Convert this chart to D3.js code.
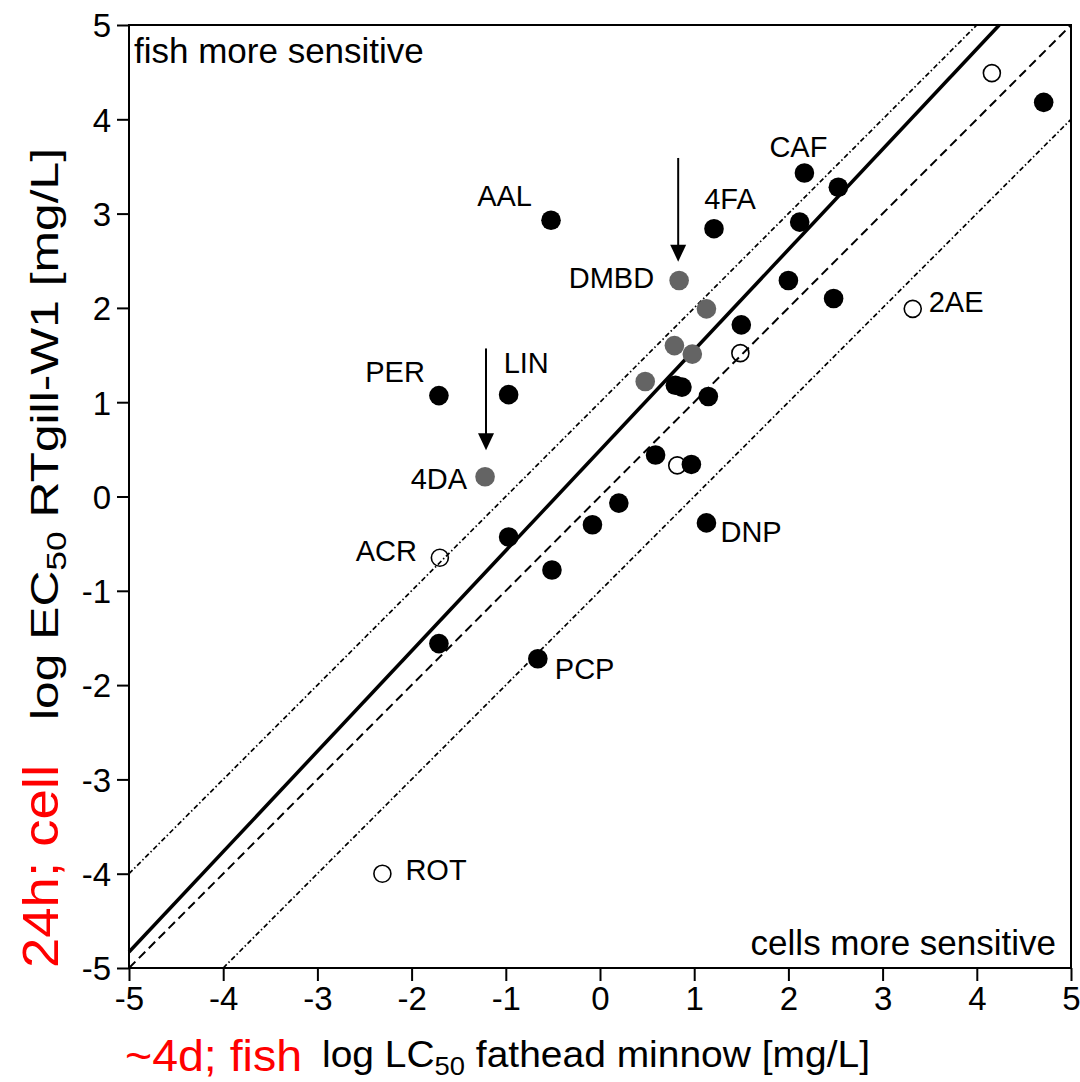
<!DOCTYPE html>
<html>
<head>
<meta charset="utf-8">
<script src="https://cdn.jsdelivr.net/npm/d3@7"></script>
<style>
    body { margin: 0; background: #fff; }
    text { font-family: "Liberation Sans", Arial, sans-serif; fill: #000; }
</style>
</head>
<body>
<div id="chart"></div>
<script>
// axis ticks (log units)
var tickValues = [-5, -4, -3, -2, -1, 0, 1, 2, 3, 4, 5];

// compounds: log LC50 fathead minnow (x) vs log EC50 RTgill-W1 (y)
var names   = ['', 'CAF', '', '', '4FA', 'AAL', '', '', '', '', '', '', 'PER', 'LIN', '', '', '', '', '', '', 'DNP', '', 'PCP',
               'DMBD', '', '', '', '', '4DA',
               '', '', '', 'ACR', '2AE', 'ROT'];
var fishLog = [4.71, 2.17, 2.53, 2.12, 1.21, -0.52, 2.00, 2.48, 1.50, 1.15, 0.80, 0.87, -1.71, -0.97, 0.59, 0.97, 0.20, -0.08, -0.97, -0.51, 1.13, -1.71, -0.66,
               0.84, 1.13, 0.79, 0.98, 0.48, -1.22,
               4.16, 1.49, 0.82, -1.70, 3.32, -2.31];
var cellLog = [4.18, 3.43, 3.28, 2.91, 2.84, 2.93, 2.29, 2.10, 1.82, 1.06, 1.18, 1.16, 1.07, 1.08, 0.44, 0.34, -0.07, -0.30, -0.43, -0.78, -0.28, -1.56, -1.72,
               2.29, 1.99, 1.60, 1.51, 1.22, 0.21,
               4.49, 1.52, 0.33, -0.65, 1.99, -4.00];
var kinds   = ['filled', 'filled', 'filled', 'filled', 'filled', 'filled', 'filled', 'filled', 'filled', 'filled', 'filled', 'filled', 'filled', 'filled', 'filled', 'filled', 'filled', 'filled', 'filled', 'filled', 'filled', 'filled', 'filled',
               'gray', 'gray', 'gray', 'gray', 'gray', 'gray',
               'open', 'open', 'open', 'open', 'open', 'open'];

// reference lines y = slope * x + intercept
var lineSlopes     = [1.064, 1, 1, 1];
var lineIntercepts = [0.49, 0, 1, -1];
var lineKinds      = ['fit', 'identity', 'upper', 'lower'];

// arrows (x, from y, to y)
var arrowX    = [0.83, -1.21];
var arrowFrom = [3.59, 1.57];
var arrowTo   = [2.49, 0.49];

var margin = { top: 25, left: 129 };
var width = 942, height = 943;

var svg = d3.select('#chart')
    .append('svg')
    .attr('width', 1080)
    .attr('height', 1082);

var g = svg.append('g')
    .attr('transform', 'translate(' + margin.left + ',' + margin.top + ')');

var x = d3.scaleLinear().domain([-5, 5]).range([0, width]);
var y = d3.scaleLinear().domain([-5, 5]).range([height, 0]);

// axes
var xAxis = g.append('g')
    .attr('transform', 'translate(0,' + height + ')')
    .call(d3.axisBottom(x).tickValues(tickValues).tickSize(13).tickPadding(6)
        .tickFormat(function(d) { return String(d); }));
var yAxis = g.append('g')
    .call(d3.axisLeft(y).tickValues(tickValues).tickSize(12).tickPadding(6)
        .tickFormat(function(d) { return String(d); }));

[xAxis, yAxis].forEach(function(a) {
    a.select('.domain').remove();
    a.selectAll('line').attr('stroke', '#000').attr('stroke-width', 2);
    a.selectAll('text').attr('font-size', 33).attr('font-family', '"Liberation Sans", Arial, sans-serif').attr('fill', '#000');
});
xAxis.selectAll('text').attr('dy', '0.71em');
yAxis.selectAll('text').attr('dy', '0.36em');

// frame
g.append('rect')
    .attr('width', width)
    .attr('height', height)
    .attr('fill', 'none')
    .attr('stroke', '#000')
    .attr('stroke-width', 2);

// reference lines
var lineStyles = {
    fit:      { w: 3.5, dash: null },
    identity: { w: 2,   dash: '9,5' },
    upper:    { w: 1.7, dash: '5,2.5,1.5,2.5' },
    lower:    { w: 1.7, dash: '5,2.5,1.5,2.5' }
};

lineSlopes.forEach(function(m, i) {
    var b = lineIntercepts[i];
    var x0 = Math.max(-5, (-5 - b) / m);
    var x1 = Math.min(5, (5 - b) / m);
    var st = lineStyles[lineKinds[i]];
    g.append('line')
        .attr('x1', x(x0)).attr('y1', y(m * x0 + b))
        .attr('x2', x(x1)).attr('y2', y(m * x1 + b))
        .attr('stroke', '#000')
        .attr('stroke-width', st.w)
        .attr('stroke-dasharray', st.dash);
});

// arrows
arrowX.forEach(function(ax, i) {
    var px = x(ax), tip = y(arrowTo[i]);
    g.append('line')
        .attr('x1', px).attr('y1', y(arrowFrom[i]))
        .attr('x2', px).attr('y2', tip - 14)
        .attr('stroke', '#000')
        .attr('stroke-width', 2);
    g.append('path')
        .attr('d', 'M' + (px - 8) + ',' + (tip - 17) + 'L' + (px + 8) + ',' + (tip - 17) + 'L' + px + ',' + tip + 'Z')
        .attr('fill', '#000');
});

// points
var data = names.map(function(n, i) {
    return { name: n, fx: fishLog[i], cy: cellLog[i], kind: kinds[i] };
});
var order = { open: 0, gray: 1, filled: 2 };
var sorted = data.slice().sort(function(a, b) { return order[a.kind] - order[b.kind]; });

g.selectAll('.pt')
    .data(sorted)
    .enter()
    .append('circle')
    .attr('class', 'pt')
    .attr('cx', function(d) { return x(d.fx); })
    .attr('cy', function(d) { return y(d.cy); })
    .attr('r', function(d) { return d.kind === 'open' ? 8.5 : 9.8; })
    .attr('fill', function(d) { return d.kind === 'filled' ? '#000' : d.kind === 'gray' ? '#646464' : 'none'; })
    .attr('stroke', function(d) { return d.kind === 'open' ? '#000' : 'none'; })
    .attr('stroke-width', 1.6);

// label placement relative to the point (pixels)
var labelPos = {
    CAF:  { dx: -6,  dy: -16, anchor: 'middle' },
    '4FA': { dx: 16, dy: -20, anchor: 'middle' },
    AAL:  { dx: -19, dy: -14, anchor: 'end' },
    PER:  { dx: -14, dy: -14, anchor: 'end' },
    LIN:  { dx: -5,  dy: -22, anchor: 'start' },
    DNP:  { dx: 14,  dy: 19,  anchor: 'start' },
    PCP:  { dx: 17,  dy: 20,  anchor: 'start' },
    DMBD: { dx: -25, dy: 7,   anchor: 'end' },
    '4DA': { dx: -18, dy: 12, anchor: 'end' },
    ACR:  { dx: -23, dy: 3,   anchor: 'end' },
    '2AE': { dx: 16, dy: 3,   anchor: 'start' },
    ROT:  { dx: 23,  dy: 6,   anchor: 'start' }
};

g.selectAll('.lbl')
    .data(data.filter(function(d) { return d.name; }))
    .enter()
    .append('text')
    .attr('class', 'lbl')
    .attr('x', function(d) { return x(d.fx) + labelPos[d.name].dx; })
    .attr('y', function(d) { return y(d.cy) + labelPos[d.name].dy; })
    .attr('text-anchor', function(d) { return labelPos[d.name].anchor; })
    .attr('font-size', 29)
    .text(function(d) { return d.name; });

// corner notes
g.append('text')
    .attr('x', 5).attr('y', 38)
    .attr('font-size', 35)
    .text('fish more sensitive');
g.append('text')
    .attr('x', width - 15).attr('y', height - 13)
    .attr('text-anchor', 'end')
    .attr('font-size', 35)
    .text('cells more sensitive');

// x axis title
var xt = svg.append('text')
    .attr('x', 322).attr('y', 1067)
    .attr('font-size', 37)
    .attr('textLength', 548)
    .attr('lengthAdjust', 'spacingAndGlyphs');
xt.append('tspan').text('log LC');
xt.append('tspan').attr('font-size', 26).attr('dy', 8).text('50');
xt.append('tspan').attr('dy', -8).text(' fathead minnow [mg/L]');

svg.append('text')
    .attr('x', 125).attr('y', 1071)
    .attr('font-size', 45)
    .style('fill', '#ff0000')
    .attr('textLength', 177)
    .attr('lengthAdjust', 'spacingAndGlyphs')
    .text('~4d; fish');

// y axis title
var yt = svg.append('text')
    .attr('transform', 'translate(58,720) rotate(-90)')
    .attr('font-size', 38)
    .attr('textLength', 572)
    .attr('lengthAdjust', 'spacingAndGlyphs');
yt.append('tspan').text('log EC');
yt.append('tspan').attr('font-size', 27).attr('dy', 8).text('50');
yt.append('tspan').attr('dy', -8).text(' RTgill-W1 [mg/L]');

svg.append('text')
    .attr('transform', 'translate(58,968) rotate(-90)')
    .attr('font-size', 50)
    .style('fill', '#ff0000')
    .attr('textLength', 203)
    .attr('lengthAdjust', 'spacingAndGlyphs')
    .text('24h; cell');
</script>
</body>
</html>
